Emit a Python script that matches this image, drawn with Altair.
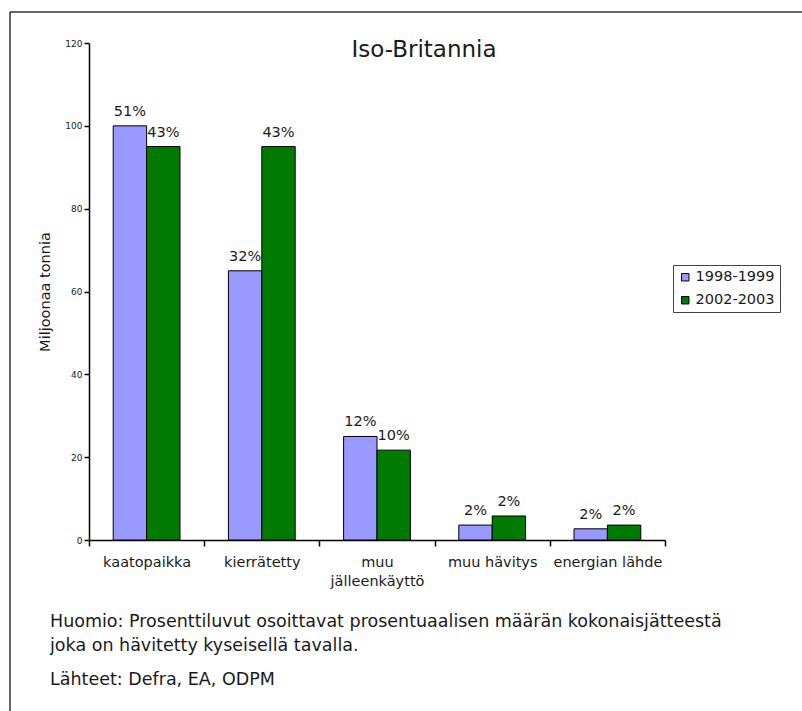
import altair as alt
import pandas as pd

categories = ["kaatopaikka", "kierrätetty", "muu jälleenkäyttö", "muu hävitys", "energian lähde"]
series = ["1998-1999", "2002-2003"]
values_1998 = [100, 65, 25, 3.6, 2.7]
values_2002 = [95, 95, 21.7, 5.8, 3.6]
pct_1998 = ["51%", "32%", "12%", "2%", "2%"]
pct_2002 = ["43%", "43%", "10%", "2%", "2%"]
y_ticks = [0, 20, 40, 60, 80, 100, 120]
title_text = "Iso-Britannia"
y_title = "Miljoonaa tonnia"
note_lines = ["Huomio: Prosenttiluvut osoittavat prosentuaalisen määrän kokonaisjätteestä",
              "joka on hävitetty kyseisellä tavalla."]
source_line = "Lähteet: Defra, EA, ODPM"
colors = ["#9999ff", "#007a00"]

rows = []
for c, v, p in zip(categories, values_1998, pct_1998):
    rows.append({"category": c, "series": series[0], "value": v, "pct": p})
for c, v, p in zip(categories, values_2002, pct_2002):
    rows.append({"category": c, "series": series[1], "value": v, "pct": p})
df = pd.DataFrame(rows)

FONT = "DejaVu Sans"
TXT = "#1a1a1a"

x_enc = alt.X("category:N", sort=categories,
              scale=alt.Scale(paddingInner=0, paddingOuter=0),
              axis=alt.Axis(title=None, tickBand="extent", labelAngle=0, tickSize=6,
                            labelPadding=9, labelFontSize=14.5, labelFont=FONT,
                            labelColor=TXT, domainColor="black", tickColor="black",
                            domainWidth=1.5, tickWidth=1.5, labelLineHeight=19,
                            labelExpr="datum.value == 'muu jälleenkäyttö' ? ['muu', 'jälleenkäyttö'] : datum.label"))
xo_enc = alt.XOffset("series:N", sort=series,
                     scale=alt.Scale(paddingInner=0, paddingOuter=0.725))
y_enc = alt.Y("value:Q", scale=alt.Scale(domain=[0, 120], nice=False),
              axis=alt.Axis(values=y_ticks, title=y_title, grid=False, tickSize=5,
                            labelPadding=2, labelFontSize=9, labelFont=FONT,
                            labelColor=TXT, domainColor="black", tickColor="black",
                            domainWidth=1.5, tickWidth=1.5,
                            titleFont=FONT, titleFontSize=14.5, titleFontWeight="normal",
                            titleColor=TXT, titlePadding=12))

bars = alt.Chart(df).mark_bar(stroke="black", strokeWidth=1).encode(
    x=x_enc, xOffset=xo_enc, y=y_enc,
    color=alt.Color("series:N", sort=series,
                    scale=alt.Scale(domain=series, range=colors),
                    legend=alt.Legend(title=None, orient="none", legendX=584, legendY=222,
                                      strokeColor="#444", fillColor="white", padding=5,
                                      symbolType="square", symbolSize=55,
                                      symbolStrokeColor="black", symbolStrokeWidth=1,
                                      labelFont=FONT, labelFontSize=14.5, labelColor=TXT,
                                      labelOffset=3, rowPadding=8)),
)

labels = alt.Chart(df).mark_text(font=FONT, fontSize=14.5, color=TXT, dy=-14,
                                 baseline="middle").encode(
    x=alt.X("category:N", sort=categories), xOffset=alt.XOffset("series:N", sort=series),
    y="value:Q", text="pct:N",
)

one = pd.DataFrame({"a": [0]})
top_line = alt.Chart(one).mark_rule(color="#333", strokeWidth=1.5).encode(
    x=alt.value(-79), x2=alt.value(713), y=alt.value(-31))
left_line = alt.Chart(one).mark_rule(color="#333", strokeWidth=1.5).encode(
    x=alt.value(-79), y=alt.value(-31), y2=alt.value(680))

title = alt.Chart(one).mark_text(font=FONT, fontSize=23, color=TXT, baseline="middle").encode(
    x=alt.value(335), y=alt.value(7), text=alt.value(title_text))

note = alt.Chart(one).mark_text(font=FONT, fontSize=17.5, color=TXT, align="left",
                                baseline="middle", lineHeight=24).encode(
    x=alt.value(-39), y=alt.value(579), text=alt.value(note_lines))
source = alt.Chart(one).mark_text(font=FONT, fontSize=17.5, color=TXT, align="left",
                                  baseline="middle").encode(
    x=alt.value(-39), y=alt.value(637), text=alt.value(source_line))

chart = alt.layer(bars, labels, top_line, left_line, title, note, source).properties(
    width=576, height=497,
    background="white",
    autosize=alt.AutoSizeParams(type="none"),
    padding={"left": 89, "top": 43, "right": 137, "bottom": 171},
).configure_view(strokeWidth=0, stroke=None)

chart.save("out.html", embed_options={"renderer": "svg", "actions": False})
